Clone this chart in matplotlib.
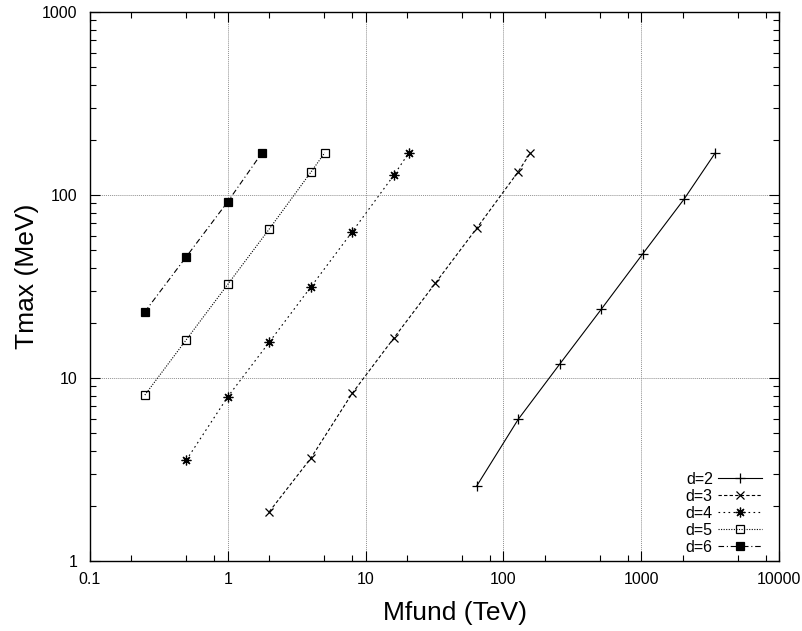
import matplotlib
matplotlib.use("Agg")
import matplotlib.pyplot as plt
from matplotlib.ticker import LogLocator, NullFormatter, FixedLocator, FixedFormatter

plt.rcParams['font.family'] = ['Liberation Sans', 'DejaVu Sans']

# data: Mfund (TeV) vs Tmax (MeV)
m_d2 = [64, 128, 256, 512, 1024, 2048, 3450]
t_d2 = [2.57, 5.94, 11.9, 23.7, 47.6, 95, 170]

m_d3 = [2, 4, 8, 16, 32, 64, 128, 157]
t_d3 = [1.86, 3.64, 8.25, 16.5, 32.9, 65.8, 134, 170]

m_d4 = [0.5, 1, 2, 4, 8, 16, 20.6]
t_d4 = [3.56, 7.9, 15.7, 31.4, 63, 128, 170]

m_d5 = [0.25, 0.5, 1, 2, 4, 5.05]
t_d5 = [8.07, 16.2, 32.5, 65.2, 133, 170]

m_d6 = [0.25, 0.5, 1, 1.77]
t_d6 = [23.0, 46, 92, 170]

labels = ["d=2", "d=3", "d=4", "d=5", "d=6"]
xticks = [0.1, 1, 10, 100, 1000, 10000]
xticklabels = ["0.1", "1", "10", "100", "1000", "10000"]
yticks = [1, 10, 100, 1000]
yticklabels = ["1", "10", "100", "1000"]

fig = plt.figure(figsize=(8.03, 6.31), dpi=100)
ax = fig.add_axes([90/803, 1 - 561/631, (779-90)/803, (561-12)/631])

lw = 0.8
ax.plot(m_d2, t_d2, color='black', lw=lw, ls='-', marker='+', ms=7, mew=0.9, label=labels[0])
ax.plot(m_d3, t_d3, color='black', lw=lw, ls=(0, (3, 2)), marker='x', ms=6, mew=0.9, label=labels[1])
ax.plot(m_d4, t_d4, color='black', lw=lw, ls=(0, (1.5, 3)), marker=(8, 2, 0), ms=7, mew=0.9, label=labels[2])
ax.plot(m_d5, t_d5, color='black', lw=lw, ls=(0, (1, 1.3)), marker='s', ms=6, mfc='none', mew=0.9, label=labels[3])
ax.plot(m_d6, t_d6, color='black', lw=lw, ls=(0, (5, 2.5, 1, 2.5)), marker='s', ms=6, mfc='black', mew=0.9, label=labels[4])

ax.set_xscale('log')
ax.set_yscale('log')
ax.set_xlim(0.1, 10000)
ax.set_ylim(1, 1000)

ax.xaxis.set_major_locator(FixedLocator(xticks))
ax.xaxis.set_major_formatter(FixedFormatter(xticklabels))
ax.yaxis.set_major_locator(FixedLocator(yticks))
ax.yaxis.set_major_formatter(FixedFormatter(yticklabels))
ax.xaxis.set_minor_locator(LogLocator(base=10, subs=[2, 5, 8]))
ax.yaxis.set_minor_locator(LogLocator(base=10, subs=[2, 3, 4, 5, 6, 7, 8, 9]))
ax.xaxis.set_minor_formatter(NullFormatter())
ax.yaxis.set_minor_formatter(NullFormatter())

ax.tick_params(which='both', direction='in', top=True, right=True, width=0.8, labelsize=11.5)
ax.tick_params(which='major', length=7)
ax.tick_params(which='minor', length=4)
ax.tick_params(axis='x', which='major', pad=8)
ax.tick_params(axis='y', which='major', pad=9)

for s in ax.spines.values():
    s.set_linewidth(1.0)

ax.grid(True, which='major', color='#909090', ls=(0, (1, 1)), lw=0.7)

fig.text(455/803, 1 - 613/631, "Mfund (TeV)", fontsize=19, ha='center', va='center')
fig.text(27/803, 1 - 276/631, "Tmax (MeV)", fontsize=19, ha='center', va='center', rotation=90)

leg = ax.legend(loc='lower right', frameon=False, markerfirst=False, fontsize=11.5,
                handlelength=2.75, handletextpad=0.35, labelspacing=0.12,
                borderaxespad=0.0, bbox_to_anchor=(0.985, 0.0))

fig.savefig("out.png", dpi=100)
